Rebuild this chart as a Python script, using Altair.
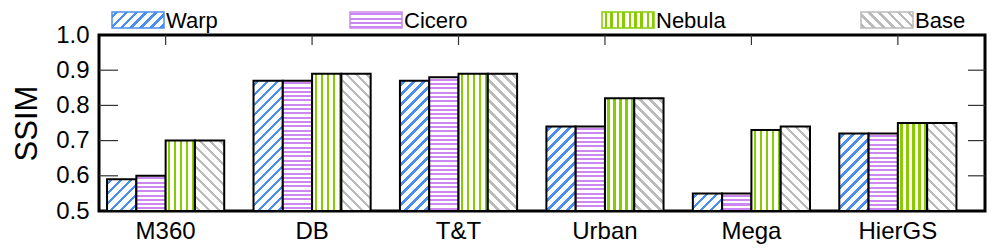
import altair as alt

# ---------------- data ----------------
categories = ["M360", "DB", "T&T", "Urban", "Mega", "HierGS"]
methods = ["Warp", "Cicero", "Nebula", "Base"]
warp = [0.59, 0.87, 0.87, 0.74, 0.55, 0.72]
cicero = [0.60, 0.87, 0.88, 0.74, 0.55, 0.72]
nebula = [0.70, 0.89, 0.89, 0.82, 0.73, 0.75]
base = [0.70, 0.89, 0.89, 0.82, 0.74, 0.75]
y_ticks = [0.5, 0.6, 0.7, 0.8, 0.9, 1.0]
inner_ticks = [0.6, 0.7, 0.8, 0.9]

# ---------------- style ----------------
series = {"Warp": warp, "Cicero": cicero, "Nebula": nebula, "Base": base}
colors = {"Warp": "#4a8ef0", "Cicero": "#cc88f0", "Nebula": "#88cc00", "Base": "#bbbbbb"}
kinds = {"Warp": "diag", "Cicero": "horiz", "Nebula": "vert", "Base": "anti"}
FONT = "Liberation Sans"

W, H = 886, 176
Y0, Y1 = 0.5, 1.0
P_IN, P_OUT, ALIGN = 0.2, 0.125, 0.22
step = W / (len(categories) - P_IN + 2 * P_OUT)
bar_w = step * (1 - P_IN) / len(methods)


def stripe_stops(color, period, lw, length, phase):
    stops = [{"offset": 0.0, "color": "white"}]
    pos = phase
    while pos < length:
        a = max(pos, 0) / length
        b = min(pos + lw, length) / length
        stops += [
            {"offset": round(a, 5), "color": "white"},
            {"offset": round(a, 5), "color": color},
            {"offset": round(b, 5), "color": color},
            {"offset": round(b, 5), "color": "white"},
        ]
        pos += period
    stops.append({"offset": 1.0, "color": "white"})
    return stops


def pattern_fill(kind, color, w, h):
    if kind == "horiz":
        g = dict(x1=0, y1=0, x2=0, y2=1)
        stops = stripe_stops(color, 4.3, 2.0, h, 1.5)
    elif kind == "vert":
        g = dict(x1=0, y1=0, x2=1, y2=0)
        stops = stripe_stops(color, 6.0, 2.2, w, 2.5)
    else:
        k = (w + h) / (w * w + h * h)
        if kind == "diag":
            g = dict(x1=0, y1=0, x2=k * w, y2=k * h)
        else:
            g = dict(x1=1, y1=0, x2=1 - k * w, y2=k * h)
        stops = stripe_stops(color, 10.0, 3.4, w + h, 3.0)
    return {"gradient": "linear", **g, "stops": stops}


bar_rows = []
for m in methods:
    for c, v in zip(categories, series[m]):
        h = (v - Y0) / (Y1 - Y0) * H
        bar_rows.append({"category": c, "method": m, "value": v,
                         "pat": pattern_fill(kinds[m], colors[m], bar_w, max(h, 1))})

x_scale = alt.Scale(paddingInner=P_IN, paddingOuter=P_OUT, align=ALIGN)
y_scale = alt.Scale(domain=[Y0, Y1], nice=False, zero=False)

x_axis = alt.Axis(title=None, labelAngle=0, labelFontSize=24, labelFont=FONT,
                  labelColor="black", ticks=False, domain=False,
                  labelPadding=8, grid=False)
y_axis = alt.Axis(values=y_ticks, format=".1f", labelFontSize=24, labelFont=FONT,
                  labelColor="black", ticks=False, domain=False,
                  grid=False, labelPadding=10, title="SSIM", titleFontSize=31,
                  titleFont=FONT, titleFontWeight="normal", titleColor="black",
                  titleX=-72, titleY=H / 2, titleAngle=270,
                  titleBaseline="middle", titleAlign="center")

bars = alt.Chart(alt.Data(values=bar_rows)).mark_bar(
    stroke="black", strokeWidth=2
).encode(
    x=alt.X("category:N", sort=categories, scale=x_scale, axis=x_axis),
    xOffset=alt.XOffset("method:N", sort=methods,
                        scale=alt.Scale(paddingInner=0, paddingOuter=0)),
    y=alt.Y("value:Q", scale=y_scale, axis=y_axis),
    y2=alt.datum(Y0),
    fill=alt.Fill("pat:N", scale=None, legend=None),
)

tick_data = alt.Data(values=[{"t": t} for t in inner_ticks])
left_ticks = alt.Chart(tick_data).mark_rule(color="#333333", strokeWidth=1.2).encode(
    y=alt.Y("t:Q", scale=y_scale, axis=y_axis),
    x=alt.value(0), x2=alt.value(19),
)
right_ticks = alt.Chart(tick_data).mark_rule(color="#333333", strokeWidth=1.2).encode(
    y=alt.Y("t:Q", scale=y_scale, axis=y_axis),
    x=alt.value(W - 17), x2=alt.value(W),
)
top_ticks = alt.Chart(alt.Data(values=[{"category": c} for c in categories])).mark_rule(
    color="#333333", strokeWidth=1.2
).encode(
    x=alt.X("category:N", sort=categories, scale=x_scale, axis=x_axis),
    y=alt.value(0), y2=alt.value(10),
)

# legend (layout in pixels relative to the plot area)
legend_x = [13, 251, 503, 762]
SW_W, SW_H = 52, 16
LEG_TOP = -23
legend_layers = []
for m, lx in zip(methods, legend_x):
    d = alt.Data(values=[{"name": m}])
    legend_layers.append(
        alt.Chart(d).mark_rect(
            stroke=colors[m], strokeWidth=1.5,
            fill=pattern_fill(kinds[m], colors[m], SW_W, SW_H),
        ).encode(
            x=alt.value(lx), x2=alt.value(lx + SW_W),
            y=alt.value(LEG_TOP), y2=alt.value(LEG_TOP + SW_H),
        )
    )
    legend_layers.append(
        alt.Chart(d).mark_text(
            align="left", baseline="alphabetic", fontSize=22, font=FONT, color="black"
        ).encode(
            x=alt.value(lx + SW_W + 2), y=alt.value(-7), text="name:N",
        )
    )

chart = alt.layer(
    bars, left_ticks, right_ticks, top_ticks, *legend_layers
).properties(
    width=W, height=H,
    autosize=alt.AutoSizeParams(type="none"),
    padding={"left": 91, "top": 27, "right": 3, "bottom": 38},
).configure_view(
    stroke="black", strokeWidth=3
)

chart.save("out.html", embed_options={"renderer": "svg", "actions": False})
